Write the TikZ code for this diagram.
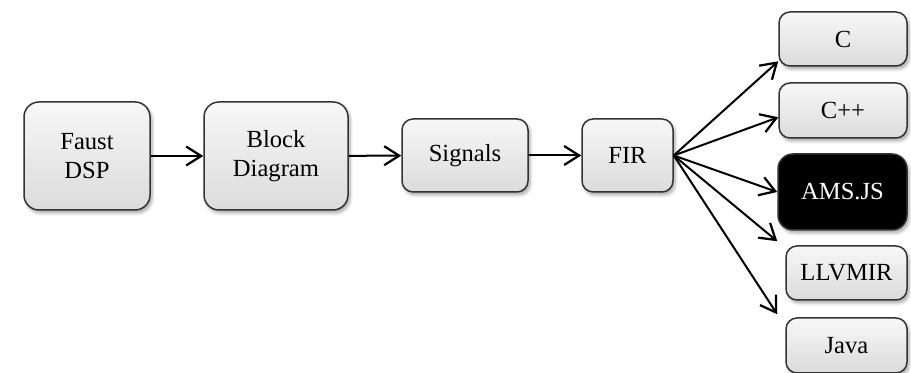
\documentclass[tikz,border=0pt]{standalone}
\usepackage{fontspec}
\setmainfont{Liberation Serif}
\usepackage{tikz}
\usetikzlibrary{shadows, shadows.blur, arrows.meta, positioning, calc, shapes}

\begin{document}
\begin{tikzpicture}[
  stage/.style={draw=black!80, line width=0.3mm, rounded corners=2.2mm,
    top color=gray!6, bottom color=gray!28, align=center, inner sep=0pt,
    font=\fontsize{14}{16.5}\selectfont,
    blur shadow={shadow xshift=0.4mm, shadow yshift=-0.6mm,
      shadow opacity=35, shadow blur steps=6}},
  bigstage/.style={stage, rounded corners=3mm,
    minimum width=25.2mm, minimum height=21.6mm},
  target/.style={stage, minimum width=25.6mm, minimum height=10.8mm},
  flow/.style={line width=0.4mm,
    -{Straight Barb[length=3mm, width=3.8mm, line width=0.45mm]}}]
\useasboundingbox (0,0) rectangle (182.2mm,74.6mm);

\node[bigstage] (faust) at (17.4mm,43.4mm) {Faust\\DSP};
\node[bigstage, minimum width=28.8mm] (block) at (55.2mm,43.4mm) {Block\\Diagram};
\node[stage, minimum width=25.2mm, minimum height=14.6mm] (signals) at (93mm,43.5mm) {Signals};
\node[stage, minimum width=18.2mm, minimum height=14.6mm] (fir) at (125.5mm,43.5mm) {FIR};

\node[target] (c) at (168.6mm,66.8mm) {C};
\node[target, minimum height=11mm] (cpp) at (168.6mm,52.5mm) {C++};
\node[target, minimum width=25.8mm, minimum height=15.2mm, rounded corners=3mm,
  fill=black, top color=black, bottom color=black, text=white] (amsjs) at (168.5mm,36.2mm) {AMS.JS};
\node[target, minimum width=24.2mm] (llvm) at (169.3mm,20mm) {LLVMIR};
\node[target, minimum width=24.2mm, minimum height=11mm] (java) at (169.3mm,5.5mm) {Java};

\draw[flow] (faust) -- (block);
\draw[flow] (block) -- (signals);
\draw[flow] (signals) -- (fir);

\draw[flow] (fir.east) -- (c.199);
\draw[flow] (fir.east) -- (cpp.186);
\draw[flow] (fir.east) -- (amsjs.west);
\draw[flow] (fir.east) -- ([xshift=-1.6mm,yshift=0.8mm]llvm.north west);
\draw[flow] (fir.east) -- ([xshift=-1.6mm,yshift=0.6mm]java.north west);

\end{tikzpicture}
\end{document}
